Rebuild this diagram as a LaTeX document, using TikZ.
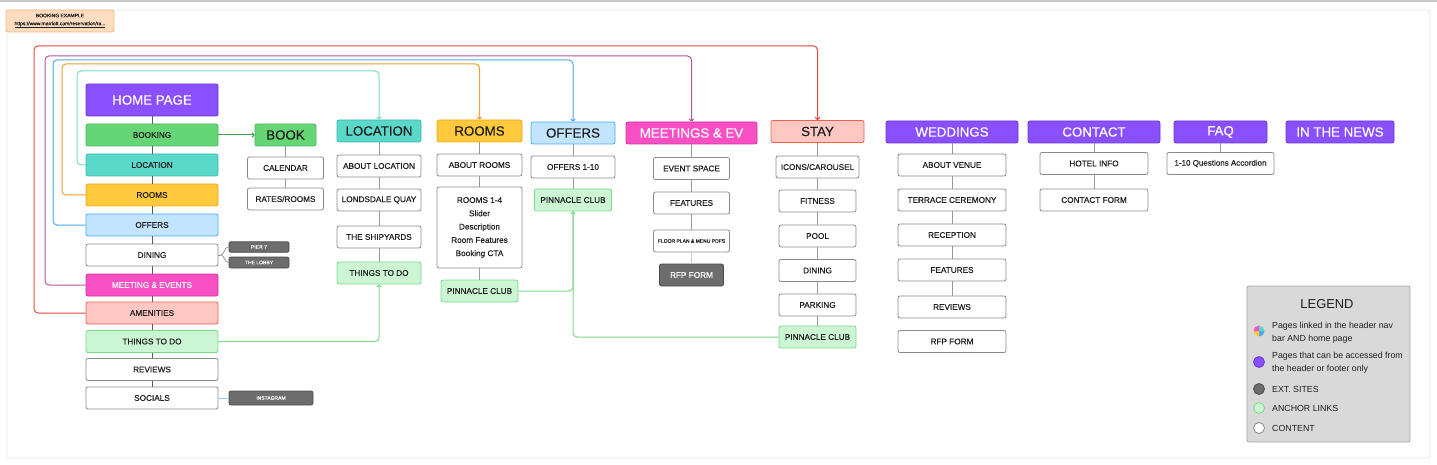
\documentclass[tikz,border=0pt]{standalone}
\usepackage{fontspec}
\setmainfont{Liberation Sans}
\newfontfamily\medf[FakeBold=0.35]{Liberation Sans}
\usetikzlibrary{arrows.meta}
\definecolor{txt}{HTML}{1E1E1E}
\definecolor{purF}{HTML}{8A50FF}\definecolor{purD}{HTML}{6A35D8}
\definecolor{grnF}{HTML}{66D575}\definecolor{grnD}{HTML}{4CB55C}
\definecolor{tealF}{HTML}{5AD8C9}\definecolor{tealD}{HTML}{3FB8AA}
\definecolor{yelF}{HTML}{FFC83D}\definecolor{yelD}{HTML}{E8A920}
\definecolor{blF}{HTML}{C2E4FF}\definecolor{blD}{HTML}{4AABF5}
\definecolor{magF}{HTML}{F94FC4}\definecolor{magD}{HTML}{C9369B}
\definecolor{pkF}{HTML}{FFC7C2}\definecolor{pkD}{HTML}{F0604F}
\definecolor{lgF}{HTML}{CCF5D3}\definecolor{lgD}{HTML}{79D98A}
\definecolor{whD}{HTML}{8A8A8A}
\definecolor{dgF}{HTML}{6D6D6D}\definecolor{dgD}{HTML}{4A4A4A}
\definecolor{cRed}{HTML}{E8473B}
\definecolor{cMag}{HTML}{B8529C}
\definecolor{cBlue}{HTML}{4AA8F0}
\definecolor{cOr}{HTML}{F0A030}
\definecolor{cTeal}{HTML}{7DD8CC}
\definecolor{cGrn}{HTML}{7ED88A}
\definecolor{noteF}{HTML}{FDDCC0}\definecolor{noteD}{HTML}{F5B57A}
\definecolor{legF}{HTML}{D9D9D9}\definecolor{legD}{HTML}{A8A8A8}
\tikzset{
  x=1pt,y=-1pt,
  sz/.style 2 args={minimum width=#1, minimum height=#2},
  box/.style={rectangle, rounded corners=2pt, draw, line width=0.8pt, inner sep=0pt,
    align=center, text=txt, font=\medf\fontsize{8.2}{10}\selectfont},
  hdr/.style={box, font=\medf\fontsize{13.3}{15}\selectfont},
  tiny/.style={box, font=\medf\fontsize{5}{6}\selectfont},
  cpur/.style={fill=purF, draw=purD, text=white},
  cgrn/.style={fill=grnF, draw=grnD},
  cteal/.style={fill=tealF, draw=tealD},
  cyel/.style={fill=yelF, draw=yelD},
  cbl/.style={fill=blF, draw=blD},
  cmag/.style={fill=magF, draw=magD, text=white},
  cpk/.style={fill=pkF, draw=pkD},
  clg/.style={fill=lgF, draw=lgD},
  cwh/.style={fill=white, draw=whD},
  cdg/.style={fill=dgF, draw=dgD, text=white},
  hline/.style={draw=black!65, line width=0.7pt},
  gline/.style={draw=black!40, line width=0.8pt},
  loop/.style={line width=1pt, rounded corners=4pt, -{To[length=3pt,width=5pt]}},
  legtxt/.style={anchor=west, align=left, inner sep=0pt, text=txt, font=\fontsize{8.8}{13}\selectfont},
}
\begin{document}
\begin{tikzpicture}
\useasboundingbox (0,0) rectangle (1437,465);
\fill[black!22] (0,0) rectangle (1437,1.8);
\draw[black!9, line width=0.8pt, rounded corners=3pt] (7,10) rectangle (1430,458);

% note
\node[box, fill=noteF, draw=noteD, sz={108}{22}, font=\medf\fontsize{5}{8}\selectfont] (note) at (60,21)
  {BOOKING EXAMPLE\\\underline{https://www.marriott.com/reservation/ra...}};

% home column
\node[hdr,cpur,sz={132}{32}] (home) at (152,100) {HOME PAGE};
\node[box,cgrn,sz={132}{22}] (hbook) at (152,135) {BOOKING};
\node[box,cteal,sz={132}{22}] (hloc) at (152,165) {LOCATION};
\node[box,cyel,sz={132}{22}] (hrooms) at (152,195) {ROOMS};
\node[box,cbl,sz={132}{22}] (hoffers) at (152,225) {OFFERS};
\node[box,cwh,sz={132}{22}] (hdining) at (152,255) {DINING};
\node[box,cmag,sz={132}{22}] (hmeet) at (152,285) {MEETING \& EVENTS};
\node[box,cpk,sz={132}{22}] (hamen) at (152,313) {AMENITIES};
\node[box,clg,sz={132}{22}] (hthings) at (152,341.5) {THINGS TO DO};
\node[box,cwh,sz={132}{22}] (hrev) at (152,369.5) {REVIEWS};
\node[box,cwh,sz={132}{22}] (hsoc) at (152,398) {SOCIALS};
\foreach \a/\b in {home/hbook,hbook/hloc,hloc/hrooms,hrooms/hoffers,hoffers/hdining,hdining/hmeet,hmeet/hamen,hamen/hthings,hthings/hrev,hrev/hsoc}
  \draw[hline] (\a) -- (\b);

\node[tiny,cdg,sz={60}{10.5}] (pier) at (259,247) {PIER 7};
\node[tiny,cdg,sz={60}{11}] (lobby) at (259,262.5) {THE LOBBY};
\node[tiny,cdg,sz={84}{14}] (insta) at (271,398) {INSTAGRAM};
\coordinate (bm) at (221,255);
\draw[gline] (hdining.east) -- (bm);
\draw[gline] (pier.west) .. controls (224,247) and (225,254) .. (bm);
\draw[gline] (lobby.west) .. controls (224,262.5) and (225,256) .. (bm);
\draw[draw=cBlue!60, line width=1pt] (hsoc.east) -- (insta.west);

% book
\node[hdr,cgrn,sz={61}{22}] (book) at (285.5,135) {BOOK};
\node[box,cwh,sz={76}{22}] (cal) at (285.5,168) {CALENDAR};
\node[box,cwh,sz={76}{22}] (rates) at (285.5,199) {RATES/ROOMS};
\draw[gline] (book) -- (cal); \draw[gline] (cal) -- (rates);
\draw[draw=grnD!85!black, line width=1pt, -{To[length=3pt,width=5pt]}] (hbook.east) -- (book.west);

% location
\node[hdr,cteal,sz={84}{22}] (loc) at (379,131) {LOCATION};
\node[box,cwh,sz={84}{22}] (aboutloc) at (379,166) {ABOUT LOCATION};
\node[box,cwh,sz={84}{22}] (londs) at (379,200) {LONDSDALE QUAY};
\node[box,cwh,sz={84}{22}] (ship) at (379,237) {THE SHIPYARDS};
\node[box,clg,sz={84}{22}] (lthings) at (379,273) {THINGS TO DO};
\draw[gline] (loc) -- (aboutloc); \draw[gline] (aboutloc) -- (londs);
\draw[gline] (londs) -- (ship); \draw[gline] (ship) -- (lthings);

% rooms
\node[hdr,cyel,sz={85}{22}] (rooms) at (479.5,131) {ROOMS};
\node[box,cwh,sz={85}{22}] (aboutrooms) at (479.5,165) {ABOUT ROOMS};
\node[box,cwh,sz={85}{81},font=\medf\fontsize{8.2}{13.3}\selectfont] (rooms14) at (479.5,227.5)
  {ROOMS 1-4\\Slider\\Description\\Room Features\\Booking CTA};
\node[box,clg,sz={77}{22}] (rpinn) at (479.5,291) {PINNACLE CLUB};
\draw[gline] (rooms) -- (aboutrooms); \draw[gline] (aboutrooms) -- (rooms14);
\draw[gline] (rooms14) -- (rpinn);

% offers
\node[hdr,cbl,sz={84}{22}] (offers) at (573,133) {OFFERS};
\node[box,cwh,sz={84}{22}] (off110) at (573,167) {OFFERS 1-10};
\node[box,clg,sz={77}{22}] (opinn) at (573,200) {PINNACLE CLUB};
\draw[gline] (offers) -- (off110); \draw[gline] (off110) -- (opinn);

% meetings
\node[hdr,cmag,sz={131}{22}] (meet) at (691.5,133) {MEETINGS \& EV};
\node[box,cwh,sz={76}{22}] (evsp) at (691.5,168.5) {EVENT SPACE};
\node[box,cwh,sz={76}{22}] (mfeat) at (691.5,203) {FEATURES};
\node[tiny,cwh,sz={76}{22}] (floor) at (691.5,241) {FLOOR PLAN \& MENU PDFS};
\node[box,cdg,sz={64}{22}] (mrfp) at (691.5,275) {RFP FORM};
\draw[gline] (meet) -- (evsp); \draw[gline] (evsp) -- (mfeat);
\draw[gline] (mfeat) -- (floor); \draw[draw=black!20, line width=0.8pt] (floor) -- (mrfp);

% stay
\node[hdr,cpk,sz={93}{22}] (stay) at (817.5,131.5) {STAY};
\node[box,cwh,sz={83}{22}] (icons) at (817.5,167) {ICONS/CAROUSEL};
\node[box,cwh,sz={77}{22}] (fit) at (817.5,201) {FITNESS};
\node[box,cwh,sz={77}{22}] (pool) at (817.5,236) {POOL};
\node[box,cwh,sz={77}{22}] (sdin) at (817.5,270.5) {DINING};
\node[box,cwh,sz={77}{22}] (park) at (817.5,305) {PARKING};
\node[box,clg,sz={77}{22}] (spinn) at (817.5,337) {PINNACLE CLUB};
\draw[gline] (stay) -- (icons); \draw[gline] (icons) -- (fit);
\draw[gline] (fit) -- (pool); \draw[gline] (pool) -- (sdin);
\draw[gline] (sdin) -- (park); \draw[gline] (park) -- (spinn);

% weddings
\node[hdr,cpur,sz={132}{22}] (wed) at (952,132) {WEDDINGS};
\node[box,cwh,sz={108}{22}] (venue) at (952,165) {ABOUT VENUE};
\node[box,cwh,sz={108}{22}] (terr) at (952,200) {TERRACE CEREMONY};
\node[box,cwh,sz={108}{22}] (recep) at (952,235) {RECEPTION};
\node[box,cwh,sz={108}{22}] (wfeat) at (952,270) {FEATURES};
\node[box,cwh,sz={108}{22}] (wrev) at (952,307) {REVIEWS};
\node[box,cwh,sz={108}{22}] (wrfp) at (952,341.5) {RFP FORM};
\draw[gline] (wed) -- (venue); \draw[gline] (venue) -- (terr);
\draw[gline] (terr) -- (recep); \draw[gline] (recep) -- (wfeat);
\draw[gline] (wfeat) -- (wrev);

% contact
\node[hdr,cpur,sz={132}{22}] (contact) at (1094,132) {CONTACT};
\node[box,cwh,sz={108}{22}] (hotel) at (1094,163.5) {HOTEL INFO};
\node[box,cwh,sz={108}{22}] (cform) at (1094,200) {CONTACT FORM};
\draw[gline] (contact) -- (hotel); \draw[gline] (hotel) -- (cform);

% faq / news
\node[hdr,cpur,sz={93}{22}] (faq) at (1220.5,132) {FAQ};
\node[box,cwh,sz={107}{22},font=\medf\fontsize{8}{10}\selectfont] (acc) at (1220.5,163.5) {1-10 Questions Accordion};
\draw[gline] (faq) -- (acc);
\node[hdr,cpur,sz={108}{22}] (news) at (1340,132) {IN THE NEWS};

% loop connectors
\draw[loop, draw=cRed] (hamen.west) -| (34,46) -| (stay.north);
\draw[loop, draw=cMag] (hmeet.west) -| (45,56) -| (meet.north);
\draw[loop, draw=cBlue] (hoffers.west) -| (53,60) -| (offers.north);
\draw[loop, draw=cOr] (hrooms.west) -| (62,64) -| (rooms.north);
\draw[loop, draw=cTeal] (hloc.west) -| (77,71) -| (loc.north);
\draw[loop, draw=cGrn] (hthings.east) -| (lthings.south);
\draw[loop, draw=cGrn] (spinn.west) -| (opinn.south);
\draw[line width=1pt, rounded corners=4pt, draw=cGrn] (rpinn.east) -| (opinn.south);

% legend
\node[rectangle, rounded corners=2pt, fill=legF, draw=legD, line width=0.8pt, sz={163}{156}] (legend) at (1328.5,364) {};
\node[inner sep=0pt, text=txt, font=\fontsize{12.9}{14}\selectfont] (legtitle) at (1327,304) {LEGEND};
\coordinate (m1) at (1259,331);
\fill[cBlue] (m1) -- ++(0:5.5) arc (0:90:5.5) -- cycle;
\fill[yelF] (m1) -- ++(90:5.5) arc (90:180:5.5) -- cycle;
\fill[magF] (m1) -- ++(180:5.5) arc (180:270:5.5) -- cycle;
\fill[tealF] (m1) -- ++(270:5.5) arc (270:360:5.5) -- cycle;
\node[legtxt] (l1) at (1272,332.5) {Pages linked in the header nav\\bar AND home page};
\node[circle, fill=purF, draw=purD, line width=0.8pt, minimum size=11, inner sep=0pt] (c2) at (1259,362) {};
\node[legtxt] (l2) at (1272,362.5) {Pages that can be accessed from\\the header or footer only};
\node[circle, fill=dgF, draw=dgD, line width=0.8pt, minimum size=11, inner sep=0pt] (c3) at (1259,389) {};
\node[legtxt] (l3) at (1272,389) {EXT. SITES};
\node[circle, fill=lgF, draw=lgD, line width=0.8pt, minimum size=11, inner sep=0pt] (c4) at (1259,408) {};
\node[legtxt] (l4) at (1272,408) {ANCHOR LINKS};
\node[circle, fill=white, draw=whD, line width=0.8pt, minimum size=11, inner sep=0pt] (c5) at (1259,428) {};
\node[legtxt] (l5) at (1272,428) {CONTENT};
\end{tikzpicture}
\end{document}
